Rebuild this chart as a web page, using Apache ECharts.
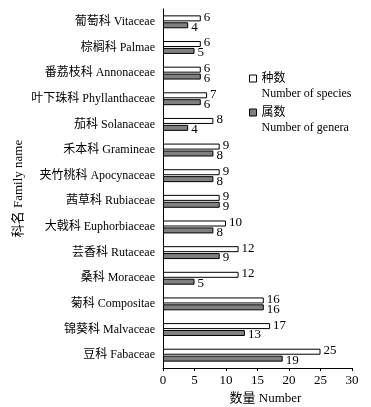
<!DOCTYPE html>
<html><head><meta charset="utf-8">
<script src="https://cdn.jsdelivr.net/npm/echarts@6/dist/echarts.min.js"></script>
<style>html,body{margin:0;padding:0;background:#fff}#c{width:371px;height:407px}</style>
</head><body><div id="c"></div>
<script>
const categories = ['葡萄科 Vitaceae','棕榈科 Palmae','番荔枝科 Annonaceae','叶下珠科 Phyllanthaceae','茄科 Solanaceae','禾本科 Gramineae','夹竹桃科 Apocynaceae','茜草科 Rubiaceae','大戟科 Euphorbiaceae','芸香科 Rutaceae','桑科 Moraceae','菊科 Compositae','锦葵科 Malvaceae','豆科 Fabaceae'];
const species = [6,6,6,7,8,9,9,9,10,12,12,16,17,25];
const genera = [4,5,6,6,4,8,8,9,8,9,5,16,13,19];
const xTicks = [0,5,10,15,20,25,30];
const F = '"Liberation Serif","Times New Roman","Noto Sans CJK SC",serif';
const chart = echarts.init(document.getElementById('c'));
chart.setOption({
  animation:false,
  backgroundColor:'#fff',
  textStyle:{fontFamily:F,color:'#000'},
  grid:{left:163,right:19,top:9,bottom:39,outerBoundsMode:'none',containLabel:false},
  legend:{
    orient:'vertical',left:244,top:51,itemWidth:7,itemHeight:7,itemGap:-11,
    icon:'rect',
    data:[{name:'种数'},{name:'属数'}],
    formatter:function(n){return n==='种数'?'\n种数\nNumber of species':'\n属数\nNumber of genera';},
    textStyle:{fontFamily:F,fontSize:12,color:'#000',lineHeight:15},
    itemStyle:{borderColor:'#000',borderWidth:1}
  },
  xAxis:{
    type:'value',min:0,max:30,interval:5,
    name:'数量 Number',nameLocation:'middle',nameGap:22,
    nameTextStyle:{fontFamily:F,fontSize:13,color:'#000',padding:[0,0,0,16]},
    axisLine:{show:true,lineStyle:{color:'#000',width:1}},
    axisTick:{show:true,length:3,lineStyle:{color:'#000'}},
    axisLabel:{fontFamily:F,fontSize:13,color:'#000',margin:6,formatter:function(v){return xTicks.indexOf(v)>=0?String(v):'';}},
    splitLine:{show:false}
  },
  yAxis:{
    type:'category',data:categories,inverse:true,
    name:'科名 Family name',nameLocation:'middle',nameGap:138,nameMoveOverlap:false,
    nameTextStyle:{fontFamily:F,fontSize:13,color:'#000'},
    axisLine:{show:true,lineStyle:{color:'#000',width:1}},
    axisTick:{show:false},
    axisLabel:{fontFamily:F,fontSize:12,color:'#000',margin:8}
  },
  series:[
    {name:'种数',type:'bar',data:species,barWidth:6,barGap:'15%',
     itemStyle:{color:'#fff',borderColor:'#000',borderWidth:1},
     label:{show:true,position:'right',distance:3,offset:[0,-1],fontFamily:F,fontSize:13,color:'#000'}},
    {name:'属数',type:'bar',data:genera,barWidth:6,
     itemStyle:{color:'#808080',borderColor:'#000',borderWidth:1},
     label:{show:true,position:'right',distance:3,offset:[0,2],fontFamily:F,fontSize:13,color:'#000'}}
  ]
});
</script></body></html>
